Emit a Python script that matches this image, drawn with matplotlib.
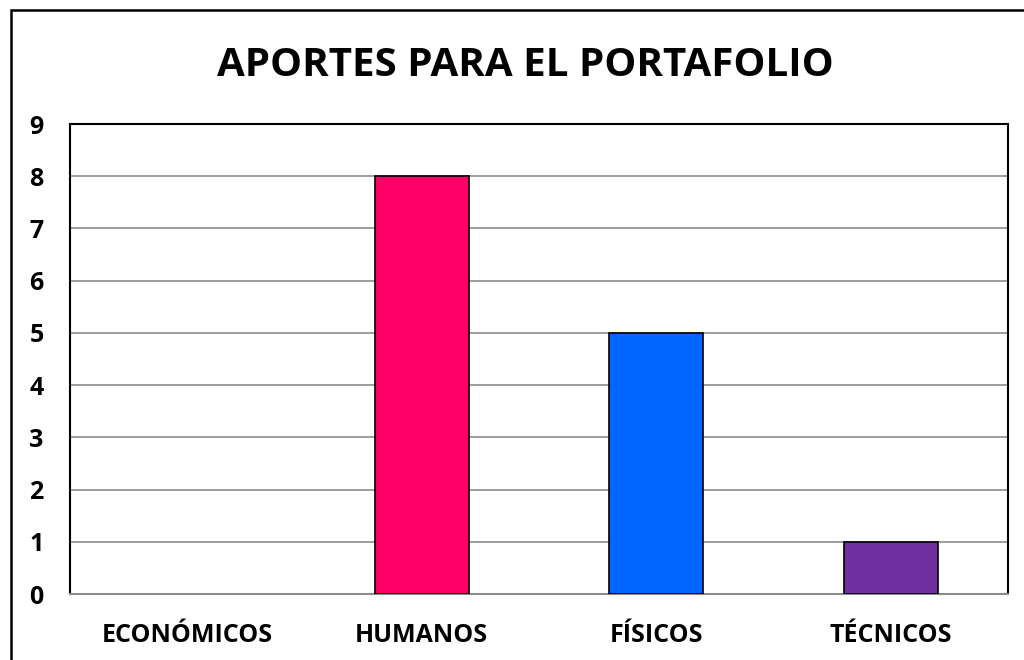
import matplotlib.pyplot as plt
from matplotlib.patches import Rectangle

categories = ['ECONÓMICOS', 'HUMANOS', 'FÍSICOS', 'TÉCNICOS']
values = [0, 8, 5, 1]
colors = ['#4472C4', '#FF0066', '#0066FF', '#7030A0']

plt.rcParams['font.family'] = ['Open Sans', 'DejaVu Sans']

fig = plt.figure(figsize=(10.24, 6.6), dpi=100)
# outer chart frame: only the top and left edges fall inside the image
fig.patches.append(Rectangle((11 / 1024, -0.1), 1.2, 1.1 - 10 / 660,
                             transform=fig.transFigure, fill=False,
                             edgecolor='black', linewidth=1.8, clip_on=False))

ax = fig.add_axes([70 / 1024, 66 / 660, 938 / 1024, 470 / 660])
x = range(len(categories))
bars = ax.bar(x, values, width=0.4, color=colors, edgecolor='black', linewidth=1.2, zorder=3)
for b, v in zip(bars, values):
    if v == 0:
        b.set_visible(False)

ax.set_xlim(-0.5, len(categories) - 0.5)
ax.set_ylim(0, 9)
ax.set_yticks(range(10))
ax.set_xticks(list(x))
ax.set_xticklabels(categories)
ax.grid(axis='y', color='#8c8c8c', linewidth=1.2, zorder=0)
ax.tick_params(length=0, labelsize=18)
ax.tick_params(axis='y', pad=24)
ax.tick_params(axis='x', pad=21)
for lbl in ax.get_xticklabels() + ax.get_yticklabels():
    lbl.set_fontweight('bold')
    lbl.set_horizontalalignment('center')

for side in ['left', 'top', 'right']:
    ax.spines[side].set_color('black')
    ax.spines[side].set_linewidth(1.5)
ax.spines['bottom'].set_color('#8c8c8c')
ax.spines['bottom'].set_linewidth(1.5)

fig.text(525 / 1024, 1 - 65 / 660, 'APORTES PARA EL PORTAFOLIO', ha='center', va='center',
         fontsize=29, fontweight='bold')

fig.savefig('out.png', dpi=100)
